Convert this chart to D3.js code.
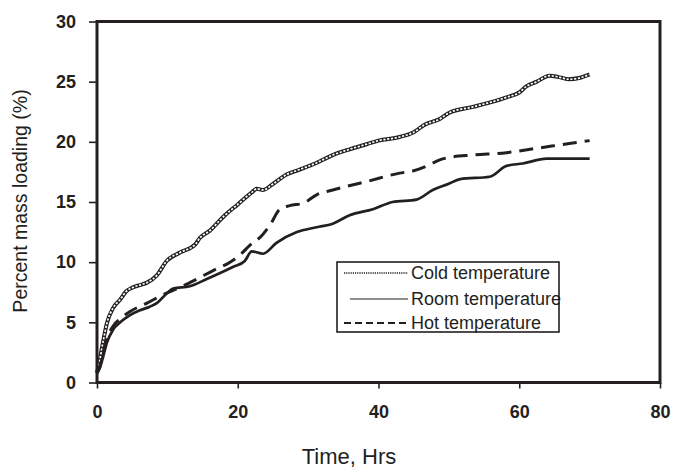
<!DOCTYPE html>
<html>
<head>
<meta charset="utf-8">
<script src="https://cdn.jsdelivr.net/npm/d3@7"></script>
<style>
  html, body { margin: 0; padding: 0; background: #fff; }
  svg { display: block; }
</style>
</head>
<body>
<svg id="chart" width="674" height="469"></svg>
<script>
// Mass loading over time at three storage temperatures
const coldTime  = [0, 0.4, 0.9, 1.4, 2.3, 3.3, 4.2, 5.1, 6.1, 7.1, 8.5, 9.9, 11.8, 14, 14.6, 16, 18, 20, 22, 22.7, 23.6, 25, 27, 28.8, 31, 33.5, 36, 38.3, 40, 43, 45, 46.5, 48.7, 50, 53.4, 56, 58.2, 60, 61, 62.5, 64.3, 65.5, 67, 68.5, 70];
const coldLoad  = [0.8, 1.9, 3.5, 4.9, 6.2, 6.9, 7.6, 7.9, 8.1, 8.3, 8.9, 10.1, 10.8, 11.5, 12.0, 12.6, 13.8, 14.8, 15.8, 16.1, 16.0, 16.5, 17.3, 17.7, 18.2, 18.9, 19.4, 19.8, 20.1, 20.4, 20.8, 21.4, 21.9, 22.4, 22.9, 23.3, 23.7, 24.1, 24.6, 25.0, 25.5, 25.4, 25.2, 25.3, 25.6];

const roomTime  = [0, 0.4, 0.9, 1.4, 2.3, 3.3, 4.7, 6.1, 7.5, 8.5, 9.9, 10.8, 13.2, 15.6, 17.5, 19.3, 21, 22, 23.6, 25.5, 28.4, 31.2, 33.5, 35.9, 39.2, 42, 45.4, 47.7, 49.9, 51.6, 55.8, 58.2, 60.5, 63.9, 66, 70];
const roomLoad  = [0.8, 1.2, 2.2, 3.3, 4.4, 5.0, 5.6, 6.0, 6.3, 6.6, 7.4, 7.8, 8.0, 8.6, 9.1, 9.6, 10.1, 10.9, 10.7, 11.6, 12.5, 12.9, 13.2, 13.9, 14.4, 15.0, 15.2, 16.0, 16.5, 16.9, 17.1, 18.0, 18.2, 18.6, 18.6, 18.6];

const hotTime   = [0, 0.4, 0.9, 1.4, 2.3, 3.3, 4.7, 7.1, 9.4, 11.8, 14.2, 16.5, 18.9, 20.5, 21.7, 23.4, 24.6, 26, 27.4, 29.3, 31.2, 33.5, 38.3, 43, 45, 46.9, 48.7, 50, 53.4, 58.2, 62.9, 67.6, 70];
const hotLoad   = [0.8, 1.3, 2.5, 3.6, 4.7, 5.3, 5.9, 6.6, 7.3, 7.9, 8.6, 9.3, 10.0, 10.7, 11.4, 12.2, 13.1, 14.4, 14.7, 14.9, 15.6, 16.0, 16.7, 17.4, 17.6, 18.0, 18.5, 18.7, 18.9, 19.1, 19.5, 19.9, 20.1];

const seriesNames = ["Cold temperature", "Room temperature", "Hot temperature"];
const xTicks = [0, 20, 40, 60, 80];
const yTicks = [0, 5, 10, 15, 20, 25, 30];
const xTitle = "Time, Hrs";
const yTitle = "Percent mass loading (%)";

const ink = "#231f20";
const font = "'Liberation Sans', Arial, sans-serif";
const svg = d3.select("#chart");
const plotLeft = 97, plotRight = 660, plotTop = 21.5, plotBottom = 382.5;

const x = d3.scaleLinear().domain([0, 80]).range([plotLeft, plotRight]);
const y = d3.scaleLinear().domain([0, 30]).range([plotBottom, plotTop]);

// Axes
const xAxis = svg.append("g")
  .attr("transform", `translate(0,${plotBottom})`)
  .call(d3.axisBottom(x).tickValues(xTicks).tickSize(6).tickFormat(d3.format("d")));
xAxis.select(".domain").remove();
xAxis.selectAll("line").attr("stroke", ink).attr("stroke-width", 1.6);
xAxis.selectAll("text")
  .attr("y", 23).attr("dy", "0.71em")
  .attr("fill", ink)
  .style("font-family", font)
  .style("font-size", "18px").style("font-weight", "bold");

const yAxis = svg.append("g")
  .attr("transform", `translate(${plotLeft},0)`)
  .call(d3.axisLeft(y).tickValues(yTicks).tickSize(8).tickPadding(13).tickFormat(d3.format("d")));
yAxis.select(".domain").remove();
yAxis.selectAll("line").attr("stroke", ink).attr("stroke-width", 1.6);
yAxis.selectAll("text")
  .attr("fill", ink)
  .style("font-family", font)
  .style("font-size", "18px").style("font-weight", "bold");

// Curves
const line = d3.line().x(d => x(d[0])).y(d => y(d[1])).curve(d3.curveMonotoneX);
const cold = d3.zip(coldTime, coldLoad);
const room = d3.zip(roomTime, roomLoad);
const hot  = d3.zip(hotTime, hotLoad);

const plot = svg.append("g");
// cold: chain of small open rings (dark stroke, broken white core)
plot.append("path").datum(cold).attr("d", line)
  .attr("fill", "none").attr("stroke", ink).attr("stroke-width", 4);
plot.append("path").datum(cold).attr("d", line)
  .attr("fill", "none").attr("stroke", "#fff").attr("stroke-width", 1.7)
  .attr("stroke-dasharray", "2.2 1.6");
plot.append("path").datum(room).attr("d", line)
  .attr("fill", "none").attr("stroke", ink).attr("stroke-width", 2.7);
plot.append("path").datum(hot).attr("d", line)
  .attr("fill", "none").attr("stroke", ink).attr("stroke-width", 3)
  .attr("stroke-dasharray", "14 8");

// Frame
svg.append("rect")
  .attr("x", plotLeft).attr("y", plotTop)
  .attr("width", plotRight - plotLeft).attr("height", plotBottom - plotTop)
  .attr("fill", "none").attr("stroke", ink).attr("stroke-width", 3);

// Legend
const lg = svg.append("g");
lg.append("rect").attr("x", 337).attr("y", 262).attr("width", 222).attr("height", 70)
  .attr("fill", "#fff").attr("stroke", ink).attr("stroke-width", 1.6);
const rows = [279, 305, 329];
const sampleStyles = [
  {w: 1.4, dash: "1.2 1"},
  {w: 1.2, dash: null},
  {w: 2, dash: "7 4"}
];
seriesNames.forEach((name, i) => {
  const ly = rows[i] - 6;
  const s = lg.append("line")
    .attr("x1", i === 1 ? 350 : 344).attr("x2", 408)
    .attr("y1", ly).attr("y2", ly)
    .attr("stroke", ink).attr("stroke-width", sampleStyles[i].w);
  if (sampleStyles[i].dash) s.attr("stroke-dasharray", sampleStyles[i].dash);
  lg.append("text").attr("x", 411).attr("y", rows[i])
    .attr("fill", ink)
    .style("font-family", font)
    .style("font-size", "18px")
    .text(name);
});

// Axis titles
svg.append("text")
  .attr("x", 349).attr("y", 464)
  .attr("text-anchor", "middle").attr("fill", ink)
  .style("font-family", font)
  .style("font-size", "22px")
  .text(xTitle);
svg.append("text")
  .attr("transform", `translate(27,201) rotate(-90)`)
  .attr("text-anchor", "middle").attr("fill", ink)
  .style("font-family", font)
  .style("font-size", "19.5px")
  .text(yTitle);
</script>
</body>
</html>
